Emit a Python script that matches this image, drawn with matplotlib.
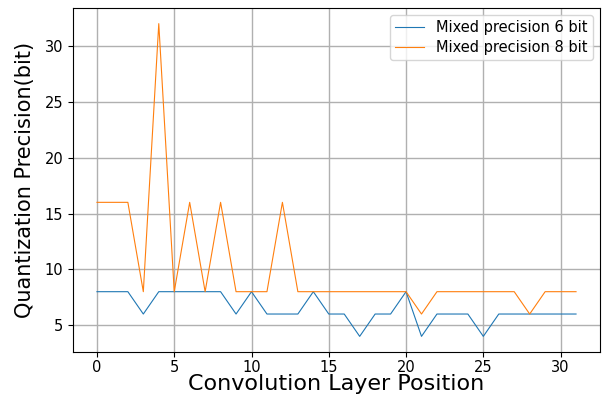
import matplotlib
matplotlib.use("Agg")
import matplotlib.pyplot as plt

layers = list(range(32))
prec_6bit = [8, 8, 8, 6, 8, 8, 8, 8, 8, 6, 8, 6, 6, 6, 8, 6,
             6, 4, 6, 6, 8, 4, 6, 6, 6, 4, 6, 6, 6, 6, 6, 6]
prec_8bit = [16, 16, 16, 8, 32, 8, 16, 8, 16, 8, 8, 8, 16, 8, 8, 8,
             8, 8, 8, 8, 8, 6, 8, 8, 8, 8, 8, 8, 6, 8, 8, 8]
labels = ["Mixed precision 6 bit", "Mixed precision 8 bit"]

fig = plt.figure(figsize=(6.06, 3.98), dpi=100)
ax = fig.add_axes([73/606, 1-352/398, (600-73)/606, (352-8)/398])
ax.plot(layers, prec_6bit, color="#1f77b4", lw=0.8, label=labels[0])
ax.plot(layers, prec_8bit, color="#ff7f0e", lw=0.8, label=labels[1])
ax.grid(True, color="#b0b0b0", lw=1.0)
ax.set_xticks([0, 5, 10, 15, 20, 25, 30])
ax.set_yticks([5, 10, 15, 20, 25, 30])
ax.tick_params(labelsize=10.5)
ax.tick_params(axis="x", pad=2.5)
ax.set_xlabel("Convolution Layer Position", fontsize=16, labelpad=-1)
ax.set_ylabel("Quantization Precision(bit)", fontsize=15, labelpad=7)
ax.legend(loc="upper right", fontsize=10.5, labelspacing=0.3,
          borderpad=0.35)
fig.savefig("out.png", dpi=100)
